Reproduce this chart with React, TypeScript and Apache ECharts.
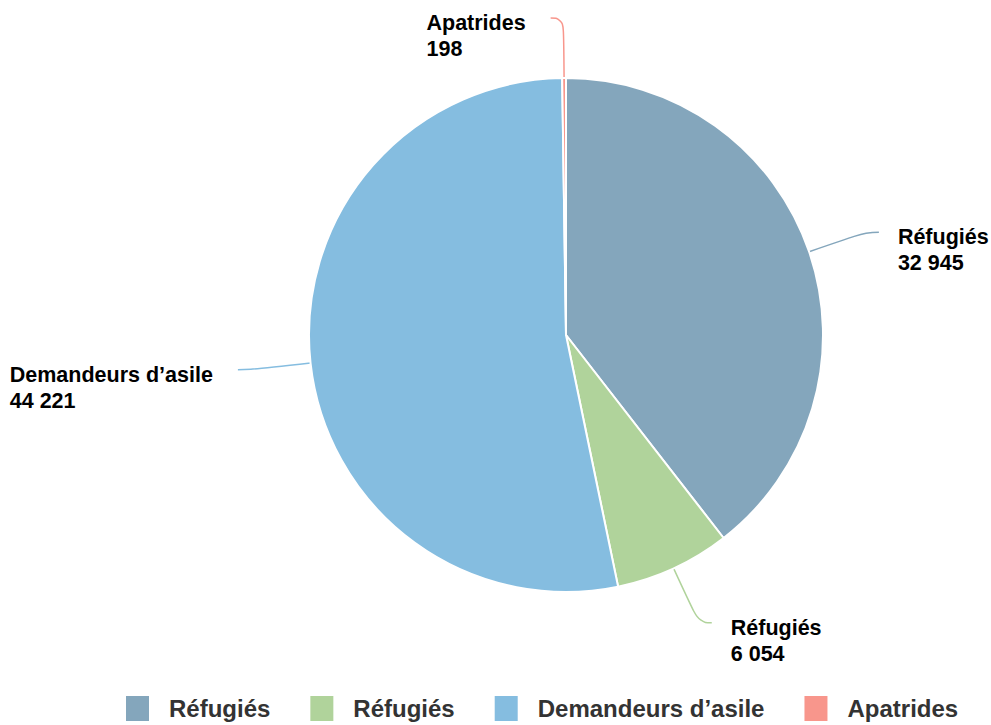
import React, { useEffect, useRef } from "react";
import * as echarts from "echarts";

const categories = ["Réfugiés", "Réfugiés ", "Demandeurs d’asile", "Apatrides"];
const values = [32945, 6054, 44221, 198];
const colors = ["#84a6bc", "#b0d39b", "#85bde0", "#f8968c"];

const fmt = (v: number) => String(v).replace(/\B(?=(\d{3})+(?!\d))/g, " ");

export default function App() {
  const ref = useRef<HTMLDivElement>(null);
  useEffect(() => {
    if (!ref.current) return;
    const chart = echarts.init(ref.current, undefined, { renderer: "svg" });
    chart.setOption({
      animation: false,
      backgroundColor: "#ffffff",
      legend: {
        left: 124,
        top: 694,
        icon: "rect",
        itemWidth: 25,
        itemHeight: 27,
        itemGap: 38,
        padding: 0,
        data: categories,
        formatter: (name: string) => "{g|}{t|" + name.trim() + "}",
        textStyle: {
          fontFamily: "Liberation Sans, Arial, sans-serif",
          fontSize: 24,
          fontWeight: "bold",
          color: "#333333",
          rich: {
            g: { width: 14, height: 21 },
            t: {
              fontFamily: "Liberation Sans, Arial, sans-serif",
              fontSize: 24,
              fontWeight: "bold",
              color: "#333333",
              height: 21,
              lineHeight: 21,
            },
          },
        },
      },
      series: [
        {
          type: "pie",
          center: [566, 335],
          radius: 257,
          startAngle: 90,
          clockwise: true,
          avoidLabelOverlap: false,
          itemStyle: { borderColor: "#ffffff", borderWidth: 2 },
          label: {
            show: true,
            position: "outside",
            formatter: (p: any) => p.name.trim() + "\n" + fmt(p.value),
            fontFamily: "Liberation Sans, Arial, sans-serif",
            fontSize: 21.5,
            fontWeight: "bold",
            color: "#000000",
            lineHeight: 26,
            align: "left",
          },
          labelLayout: (p: any) => {
            const pts = p.labelLinePoints;
            if (!pts) return {};
            const end = pts[pts.length - 1];
            const prev = pts[pts.length - 2];
            const left = end[0] < prev[0];
            const w = p.labelRect.width;
            return {
              x: left ? end[0] - 25 - w : end[0] + 19,
              y: end[1] - 8,
              align: "left",
              verticalAlign: "top",
              labelLinePoints: pts,
            };
          },
          labelLine: {
            show: true,
            length: 60,
            length2: 13,
            smooth: 0.5,
            lineStyle: { width: 1.5 },
          },
          emphasis: { disabled: true },
          data: categories.map((c, i) => ({
            name: c,
            value: values[i],
            itemStyle: { color: colors[i] },
          })),
        },
      ],
    });
    return () => chart.dispose();
  }, []);
  return (
    <div
      ref={ref}
      style={{ position: "absolute", left: 0, top: 0, width: 991, height: 725 }}
    />
  );
}
